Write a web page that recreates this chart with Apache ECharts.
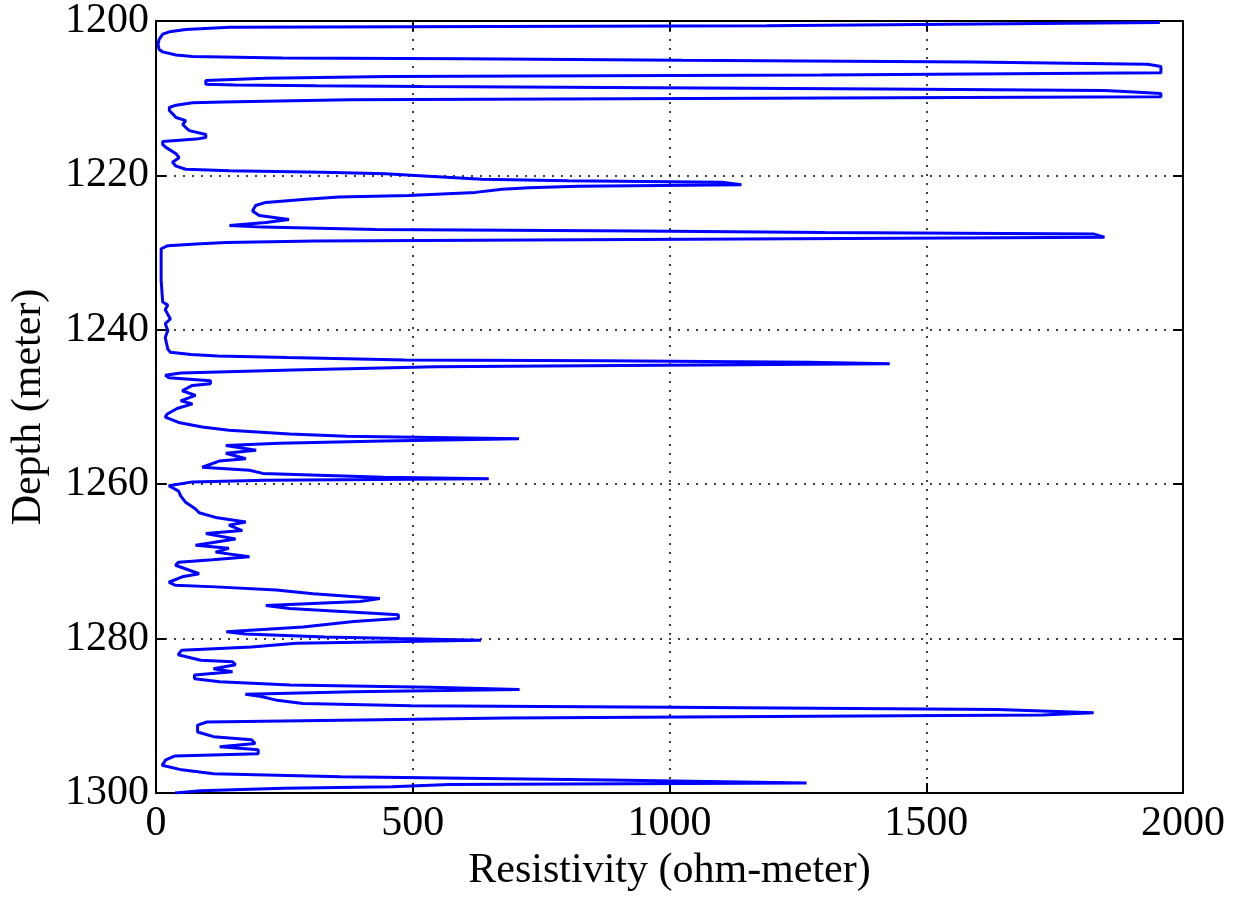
<!DOCTYPE html>
<html>
<head>
<meta charset="utf-8">
<script src="https://cdn.jsdelivr.net/npm/echarts@6/dist/echarts.min.js"></script>
<style>html,body{margin:0;padding:0;background:#fff;}#c{width:1237px;height:899px;}</style>
</head>
<body>
<div id="c"></div>
<script>
const xTicks = [0, 500, 1000, 1500, 2000];
const yTicks = [1200, 1220, 1240, 1260, 1280, 1300];
const xLabel = 'Resistivity (ohm-meter)';
const yLabel = 'Depth (meter)';
// [resistivity (ohm-meter), depth (meter)]
const logPoints = [
[1955,1200.2],[1190,1200.6],[143,1200.8],[58,1201.1],[26,1201.4],[13,1201.7],[6,1202.4],[4,1203.0],[6,1203.7],[13,1204.0],
[39,1204.4],[71,1204.6],[246,1204.8],[596,1204.9],[1024,1205.1],[1588,1205.3],[1931,1205.6],[1957,1205.9],[1957,1206.7],[1296,1207.0],
[453,1207.2],[214,1207.4],[97,1207.7],[97,1208.2],[155,1208.3],[311,1208.4],[518,1208.5],[881,1208.6],[1413,1208.8],[1847,1209.0],
[1905,1209.2],[1957,1209.4],[1957,1209.8],[1179,1210.0],[376,1210.2],[130,1210.5],[71,1210.6],[39,1210.9],[26,1211.2],[26,1211.6],
[32,1212.0],[39,1212.5],[58,1212.9],[52,1213.4],[58,1213.8],[65,1214.2],[97,1214.7],[97,1215.1],[78,1215.3],[13,1215.6],
[13,1216.0],[20,1216.4],[39,1217.2],[45,1217.7],[32,1218.3],[39,1218.8],[58,1219.2],[143,1219.4],[324,1219.6],[447,1219.8],
[505,1220.0],[635,1220.5],[803,1220.7],[1102,1220.9],[1140,1221.2],[823,1221.4],[726,1221.6],[674,1221.8],[622,1222.2],[492,1222.6],
[356,1222.8],[292,1223.1],[214,1223.5],[194,1223.9],[188,1224.6],[201,1225.2],[259,1225.7],[214,1226.1],[143,1226.5],[207,1226.7],
[428,1227.0],[940,1227.2],[1302,1227.4],[1827,1227.6],[1847,1228.0],[1244,1228.2],[311,1228.5],[136,1228.7],[78,1228.9],[23,1229.1],
[10,1229.5],[10,1233.6],[13,1236.4],[23,1236.8],[18,1237.4],[28,1238.6],[18,1239.2],[23,1240.1],[18,1241.0],[23,1242.5],
[28,1242.9],[68,1243.2],[120,1243.4],[256,1243.6],[485,1243.9],[873,1244.0],[1270,1244.2],[1429,1244.4],[982,1244.6],[545,1244.8],
[266,1245.2],[157,1245.4],[48,1245.6],[18,1245.9],[25,1246.2],[106,1246.6],[106,1247.0],[71,1247.2],[51,1247.9],[77,1248.5],
[48,1249.2],[71,1249.6],[41,1250.2],[22,1250.9],[18,1251.3],[44,1252.0],[90,1252.6],[142,1253.0],[260,1253.5],[371,1253.8],
[707,1254.1],[443,1254.4],[240,1254.7],[136,1255.0],[195,1255.6],[136,1256.0],[175,1256.7],[123,1257.0],[90,1257.8],[182,1258.2],
[208,1258.6],[443,1259.1],[648,1259.3],[214,1259.5],[71,1259.7],[25,1260.2],[44,1260.9],[48,1261.5],[57,1262.3],[77,1263.2],
[84,1263.7],[116,1264.3],[175,1264.9],[142,1265.3],[168,1266.0],[97,1266.4],[155,1267.1],[77,1267.9],[142,1268.3],[116,1268.8],
[182,1269.4],[110,1269.8],[44,1270.1],[38,1270.5],[84,1271.6],[51,1272.0],[25,1272.7],[38,1273.1],[116,1273.3],[234,1273.7],
[306,1274.2],[436,1274.8],[397,1275.2],[214,1275.7],[260,1276.1],[472,1276.9],[472,1277.4],[385,1277.8],[286,1278.5],
[137,1279.1],[174,1279.4],[329,1279.8],[472,1280.0],[633,1280.2],[273,1280.6],[186,1281.1],[50,1281.5],[43,1282.1],[87,1282.8],
[149,1283.0],[155,1283.4],[112,1283.9],[149,1284.3],[75,1284.7],[75,1285.2],[124,1285.6],[261,1286.0],[534,1286.3],[708,1286.6],
[385,1286.9],[174,1287.2],[205,1287.5],[236,1288.0],[286,1288.4],[497,1288.7],[1006,1288.9],[1639,1289.2],[1826,1289.6],[1726,1289.9],
[1456,1290.0],[683,1290.3],[435,1290.5],[99,1290.8],[81,1291.2],[81,1292.1],[112,1292.7],[186,1293.1],[193,1293.6],[124,1294.0],
[199,1294.4],[199,1294.9],[37,1295.2],[19,1295.7],[12,1296.4],[50,1297.0],[112,1297.5],[360,1297.9],[882,1298.3],[1267,1298.7],
[571,1298.9],[460,1299.2],[248,1299.4],[87,1299.7],[37,1300.0]
];

const FONT = '"Liberation Serif", "DejaVu Serif", serif';
const FS = 42;
const plain = v => String(v);
const chart = echarts.init(document.getElementById('c'), null, {renderer: 'canvas'});
const axisLine = {show: true, onZero: false, lineStyle: {color: '#000', width: 2}};
const tick = {show: true, inside: true, length: 10, lineStyle: {color: '#000', width: 2}};
const grid = {show: true, lineStyle: {color: '#000', width: 1.5, type: [2, 7]}};
chart.setOption({
  animation: false,
  backgroundColor: '#fff',
  grid: {left: 155, right: 54, top: 20, bottom: 106, show: false},
  xAxis: [
    {type: 'value', min: xTicks[0], max: xTicks[xTicks.length-1], interval: 500, position: 'bottom',
     name: xLabel, nameLocation: 'middle', nameGap: 56,
     nameTextStyle: {fontFamily: FONT, fontSize: FS, color: '#000'},
     axisLine: axisLine, axisTick: tick, splitLine: grid,
     axisLabel: {fontFamily: FONT, fontSize: FS, color: '#000', margin: 10, formatter: plain}},
    {type: 'value', min: xTicks[0], max: xTicks[xTicks.length-1], interval: 500, position: 'top',
     axisLine: axisLine, axisTick: tick, splitLine: {show: false}, axisLabel: {show: false}}
  ],
  yAxis: [
    {type: 'value', inverse: true, min: yTicks[0], max: yTicks[yTicks.length-1], interval: 20, position: 'left',
     name: yLabel, nameLocation: 'middle', nameGap: 106,
     nameTextStyle: {fontFamily: FONT, fontSize: FS, color: '#000'},
     axisLine: axisLine, axisTick: tick, splitLine: grid,
     axisLabel: {fontFamily: FONT, fontSize: FS, color: '#000', margin: 7, formatter: plain}},
    {type: 'value', inverse: true, min: yTicks[0], max: yTicks[yTicks.length-1], interval: 20, position: 'right',
     axisLine: axisLine, axisTick: tick, splitLine: {show: false}, axisLabel: {show: false}}
  ],
  series: [{
    type: 'line', data: logPoints, showSymbol: false, symbol: 'none',
    xAxisIndex: 0, yAxisIndex: 0,
    lineStyle: {color: '#0000ff', width: 3}, z: 3
  }]
});
</script>
</body>
</html>
